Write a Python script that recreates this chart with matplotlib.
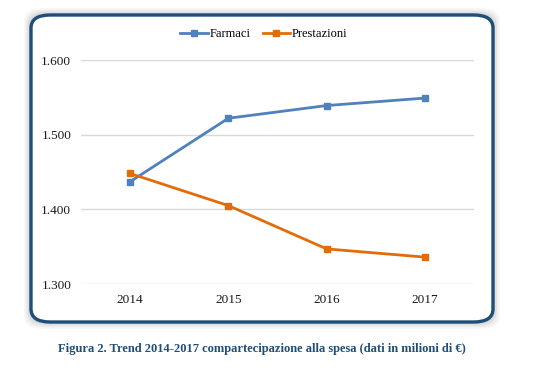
import matplotlib
matplotlib.use("Agg")
import matplotlib.pyplot as plt
from matplotlib.patches import FancyBboxPatch

# dati (milioni di euro)
anni = ["2014", "2015", "2016", "2017"]
farmaci = [1437, 1522, 1539, 1549]
prestazioni = [1448, 1405, 1347, 1336]
yticks = [1300, 1400, 1500, 1600]
ytick_labels = ["1.300", "1.400", "1.500", "1.600"]

plt.rcParams['font.family'] = ['Liberation Serif', 'DejaVu Serif']

fig = plt.figure(figsize=(5.55, 3.74), dpi=100)
W, H = 555, 374

# ombra e cornice arrotondata
for i, a in enumerate([0.03, 0.04, 0.05, 0.07]):
    off = 7 - i * 1.7
    sh = FancyBboxPatch(((31 - off) / W, 1 - (322 + off) / H), (462 + 2 * off) / W, (307 + 2 * off) / H,
                        boxstyle="round,pad=0,rounding_size=0.035", transform=fig.transFigure,
                        facecolor="#000000", edgecolor="none", alpha=a, zorder=0)
    fig.patches.append(sh)
box = FancyBboxPatch((31 / W, 1 - 322 / H), 462 / W, 307 / H,
                     boxstyle="round,pad=0,rounding_size=0.035", transform=fig.transFigure,
                     facecolor="white", edgecolor="#1F4E79", linewidth=2.4, zorder=1)
fig.patches.append(box)

ax = fig.add_axes([81 / W, 1 - 284 / H, 393 / W, 224 / H])
ax.set_facecolor("none")
ax.set_zorder(2)
x = range(len(anni))
ax.plot(x, farmaci, color="#4F81BD", linewidth=2, marker="s", markersize=5, label="Farmaci", zorder=3)
ax.plot(x, prestazioni, color="#E36C0A", linewidth=2, marker="s", markersize=5, label="Prestazioni", zorder=4)

ax.set_xlim(-0.5, 3.5)
ax.set_ylim(1300, 1600)
ax.set_yticks(yticks)
ax.set_yticklabels(ytick_labels)
ax.set_xticks(list(x))
ax.set_xticklabels(anni)
ax.tick_params(length=0, labelsize=9.5, colors="#1a1a1a")
ax.tick_params(axis="y", pad=7)
ax.tick_params(axis="x", pad=7)
ax.grid(axis="y", color="#D9D9D9", linewidth=1)
ax.set_axisbelow(True)
for s in ax.spines.values():
    s.set_visible(False)

ax.legend(loc="center", bbox_to_anchor=(0.465, 1.116), ncol=2, frameon=False,
          fontsize=9, handlelength=2.2, handletextpad=0.1, columnspacing=1.0, borderaxespad=0)

fig.text(262 / W, 1 - 349 / H, "Figura 2. Trend 2014-2017 compartecipazione alla spesa (dati in milioni di €)",
         ha="center", va="center", fontsize=9, fontweight="bold", color="#1F4E79")

fig.savefig("out.png", dpi=100)
